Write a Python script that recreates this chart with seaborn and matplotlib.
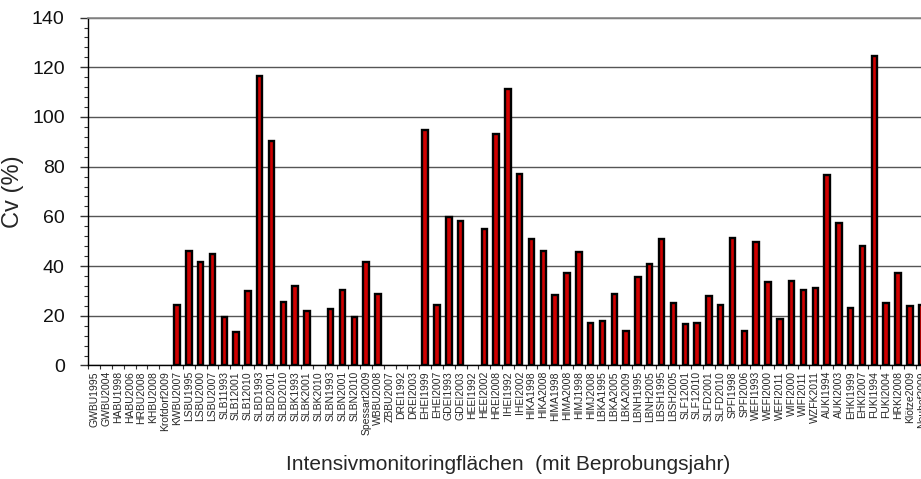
import numpy as np
import pandas as pd
import matplotlib
matplotlib.use("Agg")
import matplotlib.pyplot as plt
from matplotlib.ticker import MultipleLocator, FixedLocator
import seaborn as sns

# Monitoring plots (with sampling year)
sites = [
    "GWBU1995", "GWBU2004", "HABU1998", "HABU2006", "HRBU2008", "KHBU2008",
    "Krofdorf2009", "KWBU2007", "LSBU1995", "LSBU2000", "LSBU2007",
    "SLB11993", "SLB12001", "SLB12010", "SLBD1993", "SLBD2001", "SLBD2010",
    "SLBK1993", "SLBK2001", "SLBK2010", "SLBN1993", "SLBN2001", "SLBN2010",
    "Spessart2009", "WBBU2008", "ZBBU2007", "DREI1992", "DREI2003",
    "EHEI1999", "EHEI2007", "GDEI1993", "GDEI2003", "HEEI1992", "HEEI2002",
    "HREI2008", "IHEI1992", "IHEI2002", "HIKA1998", "HIKA2008", "HIMA1998",
    "HIMA2008", "HIMJ1998", "HIMJ2008", "LBKA1995", "LBKA2005", "LBKA2009",
    "LBNH1995", "LBNH2005", "LBSH1995", "LBSH2005", "SLF12001", "SLF12010",
    "SLFD2001", "SLFD2010", "SPFI1998", "SPFI2006", "WEFI1993", "WEFI2000",
    "WEFI2011", "WIFI2000", "WIFI2011", "WZFK2011", "AUKI1994", "AUKI2003",
    "EHKI1999", "EHKI2007", "FUKI1994", "FUKI2004", "HRKI2008", "Klötze2009",
    "Neuhof2009",
]

# Coefficient of variation in percent (nan = no value)
nan = np.nan
cv = [
    nan, nan, nan, nan, nan, nan,
    nan, 24.3, 46.1, 41.6, 45.0,
    19.4, 13.6, 30.1, 116.6, 90.3, 25.4,
    32.1, 21.9, nan, 22.6, 30.4, 19.6,
    41.6, 28.6, nan, nan, nan,
    94.8, 24.3, 59.8, 58.0, nan, 54.8,
    93.2, 111.1, 76.9, 50.9, 46.1, 28.2,
    37.1, 45.8, 17.2, 17.9, 28.9, 14.0,
    35.7, 40.8, 50.9, 25.2, 16.8, 17.1,
    28.1, 24.3, 51.3, 14.0, 49.8, 33.7,
    18.8, 34.0, 30.4, 31.0, 76.5, 57.3,
    23.0, 48.2, 124.6, 25.0, 37.1, 23.9,
    24.3,
]

df = pd.DataFrame({"site": sites, "cv": cv})

sns.set_style("white")
plt.rcParams["font.family"] = ["Liberation Sans", "DejaVu Sans"]

fig = plt.figure(figsize=(9.21, 4.79), dpi=100)
# the plot area runs on past the right edge of the figure
ax = fig.add_axes([0.0959, 0.237, 0.9112, 0.7263])

sns.barplot(data=df, x="site", y="cv", order=sites, color="#D00000",
            saturation=1, width=0.46, edgecolor="black", linewidth=1.7,
            errorbar=None, ax=ax)

ax.set_xlim(-0.5, len(sites) - 0.5)
ax.set_ylim(0, 140)
ax.yaxis.set_major_locator(MultipleLocator(20))
ax.yaxis.set_minor_locator(MultipleLocator(4))
ax.grid(axis="y", which="major", color="#555555", linewidth=1.0)
ax.set_axisbelow(True)

# category separators on the x axis
ax.xaxis.set_minor_locator(FixedLocator(np.arange(-0.5, len(sites), 1.0)))
ax.tick_params(axis="x", which="major", length=0, pad=4, labelsize=7.5,
               labelrotation=90)
ax.tick_params(axis="x", which="minor", length=3, width=0.8, color="#333333",
               direction="out", bottom=True)
ax.tick_params(axis="y", which="major", length=6, width=1.0, color="#333333",
               direction="out", left=True, labelsize=14, pad=11,
               labelcolor="#111111")
ax.tick_params(axis="y", which="minor", length=3, width=0.8, color="#333333",
               direction="out", left=True)
for lbl in ax.get_xticklabels():
    lbl.set_verticalalignment("top")

ax.spines["right"].set_visible(False)
ax.spines["top"].set_color("#888888")
ax.spines["top"].set_linewidth(1.2)
ax.spines["left"].set_color("black")
ax.spines["left"].set_linewidth(1.0)
ax.spines["bottom"].set_color("black")
ax.spines["bottom"].set_linewidth(1.0)

ax.set_ylabel("Cv (%)", fontsize=17, labelpad=6)
ax.set_xlabel("Intensivmonitoringflächen  (mit Beprobungsjahr)", fontsize=15,
              labelpad=14)

fig.savefig("out.png", dpi=100)
